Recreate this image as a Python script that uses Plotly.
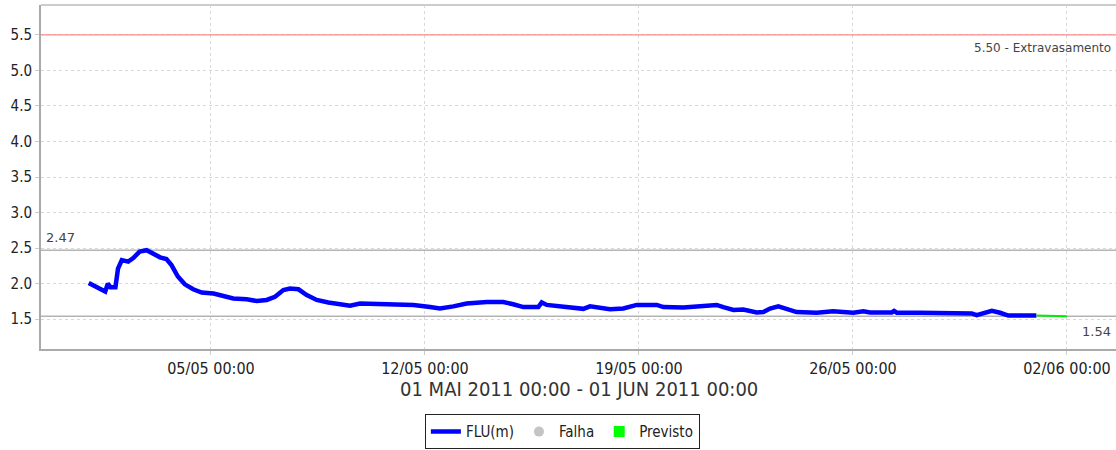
import plotly.graph_objects as go

# Observed river level FLU (m), May 2011
obs_time = [
    "2011-05-01 00:00", "2011-05-01 13:00", "2011-05-01 15:00", "2011-05-01 17:00",
    "2011-05-01 21:00", "2011-05-01 23:00", "2011-05-02 02:00", "2011-05-02 07:00",
    "2011-05-02 11:00", "2011-05-02 16:00", "2011-05-02 21:30", "2011-05-03 03:00",
    "2011-05-03 08:00", "2011-05-03 13:00", "2011-05-03 17:00", "2011-05-03 22:00",
    "2011-05-04 03:30", "2011-05-04 10:00", "2011-05-04 16:45", "2011-05-05 02:00",
    "2011-05-05 09:40", "2011-05-05 17:30", "2011-05-06 04:00", "2011-05-06 12:00",
    "2011-05-06 19:45", "2011-05-07 02:15", "2011-05-07 08:50", "2011-05-07 14:00",
    "2011-05-07 20:40", "2011-05-08 03:10", "2011-05-08 11:00", "2011-05-08 20:10",
    "2011-05-09 13:10", "2011-05-09 21:00", "2011-05-10 18:00", "2011-05-11 15:00",
    "2011-05-12 04:00", "2011-05-12 11:45", "2011-05-12 22:15", "2011-05-13 08:45",
    "2011-05-14 00:30", "2011-05-14 13:30", "2011-05-14 21:20", "2011-05-15 05:15",
    "2011-05-15 17:00", "2011-05-15 19:40", "2011-05-15 23:35", "2011-05-16 10:00",
    "2011-05-16 20:25", "2011-05-17 04:20", "2011-05-17 09:35", "2011-05-18 01:15",
    "2011-05-18 11:45", "2011-05-18 22:15", "2011-05-19 14:00", "2011-05-19 19:10",
    "2011-05-20 10:50", "2011-05-20 21:20", "2011-05-21 13:00", "2011-05-21 18:15",
    "2011-05-22 02:10", "2011-05-22 09:55", "2011-05-22 20:25", "2011-05-23 01:40",
    "2011-05-23 06:55", "2011-05-23 13:25", "2011-05-23 20:00", "2011-05-24 03:50",
    "2011-05-24 19:30", "2011-05-25 08:25", "2011-05-26 00:15", "2011-05-26 08:10",
    "2011-05-26 13:25", "2011-05-27 06:30", "2011-05-27 08:15", "2011-05-27 10:30",
    "2011-05-28 04:30", "2011-05-29 06:45", "2011-05-29 21:15", "2011-05-30 01:10",
    "2011-05-30 06:20", "2011-05-30 13:00", "2011-05-30 19:30", "2011-05-31 02:00",
    "2011-06-01 00:00",
]
obs_level = [
    2.01, 1.89, 2.00, 1.95,
    1.95, 2.21, 2.33, 2.31,
    2.36, 2.45, 2.47, 2.41,
    2.37, 2.345, 2.26, 2.10,
    1.99, 1.92, 1.875, 1.86,
    1.83, 1.79, 1.78, 1.755,
    1.77, 1.815, 1.91, 1.93,
    1.92, 1.84, 1.77, 1.735,
    1.69, 1.72, 1.71, 1.70,
    1.67, 1.65, 1.68, 1.72,
    1.74, 1.74, 1.71, 1.67,
    1.67, 1.735, 1.70, 1.68,
    1.66, 1.645, 1.68, 1.64,
    1.65, 1.70, 1.70, 1.67,
    1.665, 1.68, 1.70, 1.67,
    1.63, 1.635, 1.595, 1.60,
    1.65, 1.68, 1.65, 1.60,
    1.59, 1.61, 1.59, 1.61,
    1.595, 1.595, 1.615, 1.59,
    1.59, 1.59, 1.58, 1.557,
    1.58, 1.617, 1.59, 1.55,
    1.55,
]

# Forecast (Previsto)
fc_time = ["2011-06-01 00:00", "2011-06-02 00:00"]
fc_level = [1.55, 1.54]

# Overflow threshold
overflow_level = 5.50
overflow_label = "Extravasamento"

y_ticks = [1.5, 2.0, 2.5, 3.0, 3.5, 4.0, 4.5, 5.0, 5.5]
x_title = "01 MAI 2011 00:00 - 01 JUN 2011 00:00"

max_level = max(obs_level)
last_level = fc_level[-1]

COND = "DejaVu Sans Condensed, Liberation Sans Narrow, DejaVu Sans, sans-serif"
PLAIN = "DejaVu Sans, sans-serif"

fig = go.Figure()

fig.add_trace(go.Scatter(
    x=obs_time, y=obs_level, mode="lines", name="FLU(m)",
    line=dict(color="#0000ff", width=4.5),
))
fig.add_trace(go.Scatter(
    x=[None], y=[None], mode="markers", name="Falha",
    marker=dict(color="#c4c4c4", size=10, symbol="circle"),
))
fig.add_trace(go.Scatter(
    x=fc_time, y=fc_level, mode="lines", name="Previsto",
    line=dict(color="#00ee00", width=2), showlegend=False,
))
fig.add_trace(go.Scatter(
    x=[None], y=[None], mode="markers", name="Previsto",
    marker=dict(color="#00ff00", size=11, symbol="square"),
))

# Reference lines: overflow, maximum, last value
fig.add_shape(type="line", xref="paper", x0=0, x1=1, yref="y",
              y0=overflow_level, y1=overflow_level,
              line=dict(color="#ff8a8a", width=1.2), layer="above")
fig.add_shape(type="line", xref="paper", x0=0, x1=1, yref="y",
              y0=max_level, y1=max_level,
              line=dict(color="#b4b4b4", width=1.5), layer="below")
fig.add_shape(type="line", xref="paper", x0=0, x1=1, yref="y",
              y0=last_level, y1=last_level,
              line=dict(color="#b4b4b4", width=1.5), layer="below")
# top frame line
fig.add_shape(type="line", xref="paper", x0=0, x1=1, yref="paper",
              y0=1, y1=1, line=dict(color="#cccccc", width=2))

fig.add_annotation(xref="paper", x=1, yref="y", y=overflow_level,
                   text=f"{overflow_level:.2f} - {overflow_label}",
                   showarrow=False, xanchor="right", yanchor="top", xshift=-3, yshift=-4,
                   font=dict(family=PLAIN, size=12, color="#444444"))
fig.add_annotation(xref="paper", x=0, yref="y", y=max_level,
                   text=f"{max_level:.2f}", showarrow=False,
                   xanchor="left", yanchor="bottom", xshift=3, yshift=3,
                   font=dict(family=PLAIN, size=13, color="#444444"))
fig.add_annotation(xref="paper", x=1, yref="y", y=last_level,
                   text=f"{last_level:.2f}", showarrow=False,
                   xanchor="right", yanchor="top", xshift=-3, yshift=-6,
                   font=dict(family=PLAIN, size=13, color="#444444"))
fig.add_annotation(xref="paper", x=0.5, yref="paper", y=-0.116,
                   text=x_title, showarrow=False,
                   xanchor="center", yanchor="middle",
                   font=dict(family=COND, size=20, color="#333333"))

fig.update_layout(
    width=1116, height=450,
    margin=dict(l=41, r=0, t=5, b=101, autoexpand=False),
    paper_bgcolor="white", plot_bgcolor="white",
    showlegend=True,
    legend=dict(
        orientation="h", xanchor="center", x=0.485, yanchor="top", y=-0.19,
        bordercolor="#222222", borderwidth=1, bgcolor="white",
        font=dict(family=COND, size=15, color="#222222"),
        itemwidth=30, tracegroupgap=0,
    ),
    xaxis=dict(
        type="date",
        range=["2011-04-29 10:33", "2011-06-03 14:31"],
        tick0="2011-05-05", dtick=7 * 86400000,
        tickformat="%d/%m %H:%M",
        showgrid=True, gridcolor="#d8d8d8", griddash="3px,3px", gridwidth=1,
        showline=True, linecolor="#aaaaaa", linewidth=2,
        ticks="outside", ticklen=4, tickcolor="#cccccc",
        tickfont=dict(family=COND, size=16, color="#222222"),
        zeroline=False,
    ),
    yaxis=dict(
        range=[1.08, 5.92],
        tickvals=y_ticks, ticktext=[f"{v:.1f}" for v in y_ticks],
        showgrid=True, gridcolor="#d8d8d8", griddash="3px,3px", gridwidth=1,
        showline=True, linecolor="#aaaaaa", linewidth=2,
        ticks="outside", ticklen=4, tickcolor="#cccccc",
        tickfont=dict(family=COND, size=15, color="#222222"),
        zeroline=False,
    ),
)

fig.write_html("out.html")
